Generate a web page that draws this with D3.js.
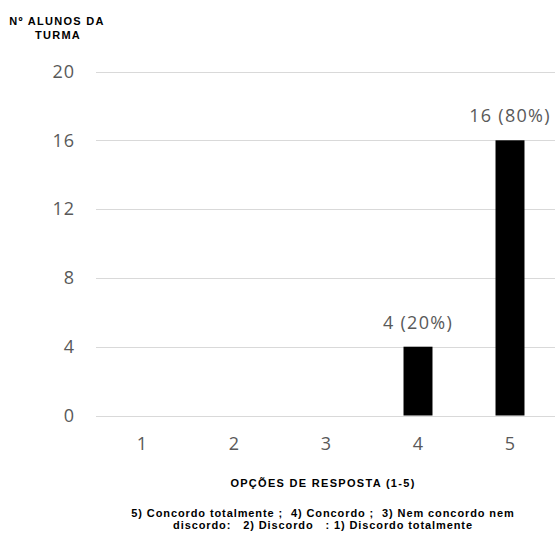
<!DOCTYPE html>
<html><head><meta charset="utf-8">
<script src="https://cdn.jsdelivr.net/npm/d3@7"></script>
<style>body{margin:0;background:#fff} text{white-space:pre}</style>
</head><body>
<svg id="c" width="555" height="533"></svg>
<script>
const categories = ["1","2","3","4","5"];
const values = [0,0,0,4,16];
const labels = ["","","","4 (20%)","16 (80%)"];
const yTicks = [0,4,8,12,16,20];

const svg = d3.select("#c");
const x = d3.scaleBand().domain(categories).range([96,556]).paddingInner(0.685).paddingOuter(0.3425);
const y = d3.scaleLinear().domain([0,20]).range([415.5,71.5]);

const font = "'Open Sans', sans-serif";
// gridlines
svg.append("g").selectAll("line").data(yTicks).join("line")
  .attr("x1",96).attr("x2",555)
  .attr("y1",d=>Math.round(y(d))+0.5).attr("y2",d=>Math.round(y(d))+0.5)
  .attr("stroke","#d9d9d9").attr("stroke-width",1);

// y axis labels
const ya = svg.append("g").attr("transform","translate(96,0)")
  .call(d3.axisLeft(y).tickValues(yTicks).tickSize(0).tickPadding(21));
ya.select(".domain").remove();
ya.selectAll("text").attr("font-family",font).attr("font-size",18).attr("letter-spacing",1).attr("fill","#595959");

// x axis labels
const xa = svg.append("g").attr("transform","translate(0,415.5)")
  .call(d3.axisBottom(x).tickSize(0).tickPadding(22));
xa.select(".domain").remove();
xa.selectAll("text").attr("font-family",font).attr("font-size",18).attr("fill","#595959");

// bars
svg.append("g").selectAll("rect").data(values).join("rect")
  .attr("x",(d,i)=>x(categories[i])).attr("width",x.bandwidth())
  .attr("y",d=>y(d)).attr("height",d=>y(0)-y(d)).attr("fill","#000");

// data labels
svg.append("g").selectAll("text").data(values).join("text")
  .attr("x",(d,i)=>x(categories[i])+x.bandwidth()/2)
  .attr("y",d=>y(d)-18)
  .attr("text-anchor","middle").attr("font-family",font).attr("font-size",18)
  .attr("letter-spacing",1.3).attr("fill","#595959")
  .text((d,i)=>labels[i]);

// titles
const tf = "'Liberation Sans', Arial, sans-serif";
function t(xp, yp, s, ls){
  svg.append("text").attr("x",xp).attr("y",yp).attr("text-anchor","middle")
    .attr("font-family",tf).attr("font-weight","bold").attr("font-size",11)
    .attr("letter-spacing",ls).attr("fill","#000").text(s);
}
t(57,25,"Nº ALUNOS DA",1.3);
t(58,39,"TURMA",1.3);
t(323,487,"OPÇÕES DE RESPOSTA (1-5)",1.3);
t(323,517,"5) Concordo totalmente ;  4) Concordo ;  3) Nem concordo nem",0.9);
t(323,529,"discordo:   2) Discordo   : 1) Discordo totalmente",0.9);
</script>
</body></html>
